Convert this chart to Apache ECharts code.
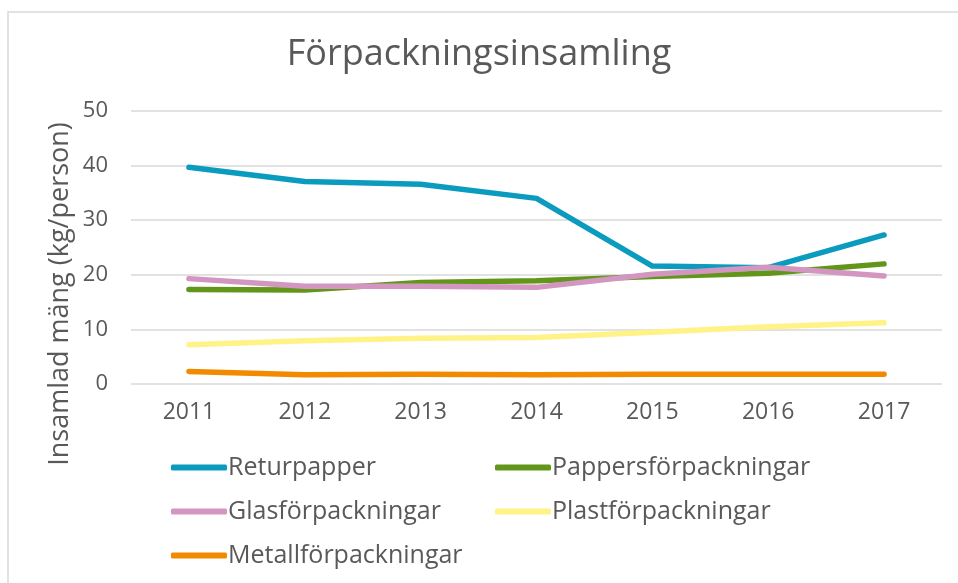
<!DOCTYPE html>
<html>
<head>
<meta charset="utf-8">
<script src="https://cdn.jsdelivr.net/npm/echarts@6/dist/echarts.min.js"></script>
<style>
  html, body { margin: 0; padding: 0; background: #fff; }
  #chart { width: 958px; height: 583px; }
</style>
</head>
<body>
<div id="chart"></div>
<script>
const years = ['2011', '2012', '2013', '2014', '2015', '2016', '2017'];
const returpapper = [39.7, 37.1, 36.6, 34.0, 21.6, 21.3, 27.3];
const pappersforp = [17.3, 17.2, 18.6, 18.9, 19.7, 20.3, 22.0];
const glasforp = [19.3, 17.9, 17.9, 17.7, 20.1, 21.4, 19.8];
const plastforp = [7.2, 7.9, 8.4, 8.5, 9.5, 10.5, 11.2];
const metallforp = [2.3, 1.7, 1.8, 1.7, 1.8, 1.8, 1.8];

const font = '"Open Sans", sans-serif';
const textColor = '#595959';

const chart = echarts.init(document.getElementById('chart'));

function line(name, data, color) {
  return {
    name: name,
    type: 'line',
    data: data,
    showSymbol: false,
    symbol: 'none',
    lineStyle: { color: color, width: 5.5, cap: 'round', join: 'round' },
    itemStyle: { color: color }
  };
}

const legendBase = {
  orient: 'vertical',
  icon: 'roundRect',
  itemWidth: 56,
  itemHeight: 6,
  itemGap: 19,
  padding: 0,
  textStyle: { fontFamily: font, fontSize: 25, lineHeight: 25, color: textColor, padding: [0, 0, 0, -4] }
};

const option = {
  animation: false,
  title: {
    text: 'Förpackningsinsamling',
    left: 'center',
    top: 32,
    textStyle: { fontFamily: font, fontSize: 36, fontWeight: 'normal', color: textColor }
  },
  graphic: [
    {
      type: 'rect',
      shape: { x: 8, y: 12, width: 960, height: 600 },
      style: { fill: 'none', stroke: '#d9d9d9', lineWidth: 1.5 }
    },
    {
      type: 'text',
      x: 60,
      y: 294,
      rotation: Math.PI / 2,
      style: {
        text: 'Insamlad mäng (kg/person)',
        fontFamily: font,
        fontSize: 27,
        fill: textColor,
        align: 'center',
        verticalAlign: 'middle'
      }
    }
  ],
  legend: [
    Object.assign({}, legendBase, {
      left: 171, top: 455,
      data: ['Returpapper', 'Glasförpackningar', 'Metallförpackningar']
    }),
    Object.assign({}, legendBase, {
      left: 495, top: 455,
      data: ['Pappersförpackningar', 'Plastförpackningar']
    })
  ],
  grid: { left: 131, right: 16, top: 111, bottom: 199 },
  xAxis: {
    type: 'category',
    data: years,
    boundaryGap: true,
    axisLine: { show: false },
    axisTick: { show: false },
    axisLabel: { fontFamily: font, fontSize: 23, color: textColor, margin: 17 }
  },
  yAxis: {
    type: 'value',
    min: 0,
    max: 50,
    interval: 10,
    axisLine: { show: false },
    axisTick: { show: false },
    axisLabel: { fontFamily: font, fontSize: 22, color: textColor, margin: 23 },
    splitLine: { lineStyle: { color: '#d9d9d9', width: 1.5 } }
  },
  series: [
    line('Returpapper', returpapper, '#0B9BBF'),
    line('Pappersförpackningar', pappersforp, '#62961A'),
    line('Glasförpackningar', glasforp, '#D396C0'),
    line('Plastförpackningar', plastforp, '#FFF287'),
    line('Metallförpackningar', metallforp, '#F28A00')
  ]
};

chart.setOption(option);
</script>
</body>
</html>
